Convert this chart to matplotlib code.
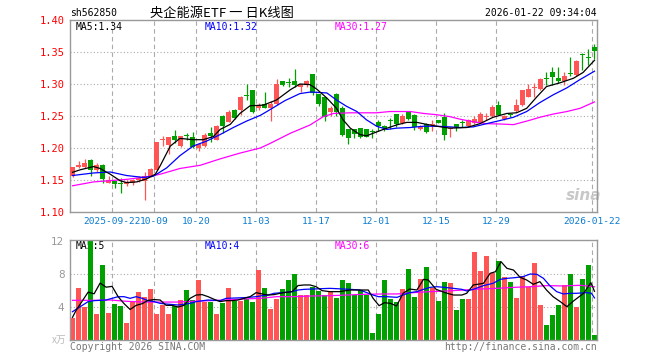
import matplotlib.pyplot as plt
import numpy as np

# daily candles, 2025-09-11 .. 2026-01-22 (88 trading days)
opens = [1.157, 1.170, 1.170, 1.182, 1.165, 1.174, 1.146, 1.149, 1.145, 1.143,
         1.145, 1.150, 1.149, 1.156, 1.166, 1.212, 1.205, 1.219, 1.203, 1.219,
         1.217, 1.200, 1.203, 1.224, 1.213, 1.250, 1.241, 1.260, 1.260, 1.282,
         1.290, 1.262, 1.269, 1.263, 1.268, 1.304, 1.303, 1.304, 1.296, 1.298,
         1.315, 1.284, 1.279, 1.257, 1.285, 1.263, 1.229, 1.229, 1.231, 1.229,
         1.227, 1.241, 1.234, 1.243, 1.253, 1.239, 1.257, 1.252, 1.229, 1.238,
         1.236, 1.243, 1.248, 1.230, 1.237, 1.2395, 1.234, 1.239, 1.241, 1.2485,
         1.250, 1.267, 1.245, 1.252, 1.258, 1.267, 1.280, 1.293, 1.292, 1.3085,
         1.318, 1.309, 1.305, 1.317, 1.314, 1.346, 1.342, 1.358]
highs = [1.171, 1.180, 1.183, 1.183, 1.176, 1.175, 1.157, 1.150, 1.153, 1.150,
         1.151, 1.156, 1.162, 1.168, 1.210, 1.219, 1.217, 1.228, 1.219, 1.223,
         1.225, 1.208, 1.223, 1.233, 1.236, 1.252, 1.259, 1.261, 1.282, 1.300,
         1.291, 1.270, 1.288, 1.273, 1.308, 1.305, 1.309, 1.323, 1.300, 1.307,
         1.316, 1.285, 1.280, 1.265, 1.286, 1.266, 1.230, 1.230, 1.232, 1.230,
         1.229, 1.244, 1.236, 1.247, 1.253, 1.253, 1.257, 1.253, 1.236, 1.239,
         1.243, 1.244, 1.254, 1.233, 1.238, 1.244, 1.245, 1.250, 1.257, 1.254,
         1.267, 1.274, 1.252, 1.254, 1.276, 1.290, 1.300, 1.301, 1.310, 1.318,
         1.327, 1.327, 1.318, 1.342, 1.337, 1.349, 1.354, 1.362]
lows = [1.155, 1.168, 1.168, 1.156, 1.163, 1.145, 1.145, 1.137, 1.130, 1.140,
        1.142, 1.147, 1.119, 1.155, 1.165, 1.203, 1.190, 1.208, 1.202, 1.212,
        1.200, 1.195, 1.202, 1.209, 1.212, 1.223, 1.240, 1.245, 1.252, 1.275,
        1.254, 1.260, 1.262, 1.242, 1.267, 1.297, 1.296, 1.296, 1.287, 1.296,
        1.283, 1.265, 1.242, 1.250, 1.250, 1.218, 1.206, 1.215, 1.216, 1.217,
        1.216, 1.227, 1.226, 1.230, 1.233, 1.238, 1.244, 1.228, 1.228, 1.224,
        1.227, 1.239, 1.212, 1.217, 1.227, 1.233, 1.233, 1.237, 1.240, 1.243,
        1.248, 1.251, 1.244, 1.248, 1.256, 1.265, 1.279, 1.280, 1.291, 1.298,
        1.299, 1.302, 1.298, 1.312, 1.313, 1.322, 1.330, 1.339]
closes = [1.170, 1.174, 1.176, 1.165, 1.174, 1.152, 1.150, 1.143, 1.144, 1.147,
          1.150, 1.153, 1.157, 1.167, 1.210, 1.214, 1.217, 1.213, 1.218, 1.218,
          1.202, 1.206, 1.220, 1.218, 1.235, 1.234, 1.256, 1.247, 1.280, 1.281,
          1.257, 1.267, 1.263, 1.268, 1.300, 1.298, 1.302, 1.299, 1.300, 1.304,
          1.286, 1.269, 1.249, 1.262, 1.257, 1.221, 1.215, 1.222, 1.217, 1.217,
          1.225, 1.235, 1.231, 1.242, 1.238, 1.250, 1.246, 1.233, 1.233, 1.225,
          1.237, 1.239, 1.220, 1.231, 1.233, 1.2385, 1.243, 1.246, 1.253, 1.2495,
          1.264, 1.252, 1.250, 1.251, 1.267, 1.290, 1.292, 1.294, 1.308, 1.3075,
          1.311, 1.304, 1.313, 1.316, 1.336, 1.345, 1.341, 1.352]
# volume, unit: 万
volumes = [2.7, 6.3, 4.0, 12.2, 3.15, 9.1, 3.3, 4.35, 4.1, 2.05,
           4.65, 5.8, 5.25, 6.2, 3.15, 4.25, 3.15, 4.1, 4.85, 6.05,
           4.85, 7.3, 4.65, 4.65, 3.15, 4.5, 6.3, 4.75, 4.75, 4.95,
           4.65, 8.5, 6.3, 3.75, 4.95, 6.2, 7.3, 8.0, 5.45, 5.45,
           6.4, 5.95, 5.45, 5.85, 5.15, 7.3, 6.95, 5.45, 6.05, 5.45,
           0.9, 3.15, 7.3, 4.95, 4.65, 6.2, 8.6, 5.25, 7.4, 8.85,
           6.3, 4.75, 7.0, 6.85, 3.65, 4.95, 4.95, 10.65, 8.35, 10.2,
           8.1, 9.6, 7.6, 7.0, 5.1, 7.75, 6.4, 9.35, 4.25, 1.8,
           3.05, 4.25, 6.65, 8.0, 4.0, 7.4, 9.15, 0.6]

tick_idx = [7, 14, 21, 31, 41, 51, 61, 71, 87]
tick_labels = ["2025-09-22", "10-09", "10-20", "11-03", "11-17",
               "12-01", "12-15", "12-29", "2026-01-22"]

# moving averages (candle index, value)
ma5_x = [0, 1.3, 3.5, 4.6, 6.3, 7.9, 9.0, 10.7, 12.4, 13.8, 14.6, 16.3, 17.9, 20.1, 21.8,
         23.5, 24.6, 26.3, 27.9, 29.6, 31.8, 34.0, 36.3, 37.9, 39.6, 40.7, 42.4, 44.0, 45.1,
         46.3, 47.9, 49.0, 50.1, 51.8, 54.0, 55.7, 57.4, 59.0, 60.7, 62.9, 65.7, 67.9, 70.1,
         72.4, 74.0, 75.7, 77.4, 79.0, 81.3, 83.5, 85.1, 87.0]
ma5_y = [1.162, 1.166, 1.171, 1.168, 1.159, 1.149, 1.146, 1.147, 1.152, 1.159, 1.172, 1.203,
         1.215, 1.213, 1.213, 1.218, 1.229, 1.237, 1.254, 1.266, 1.267, 1.275, 1.291, 1.300,
         1.299, 1.292, 1.278, 1.262, 1.244, 1.231, 1.221, 1.219, 1.223, 1.229, 1.236, 1.240,
         1.240, 1.237, 1.234, 1.231, 1.232, 1.238, 1.248, 1.254, 1.255, 1.262, 1.280, 1.296,
         1.302, 1.309, 1.318, 1.337]
ma10_x = [0, 3.5, 6.3, 9.0, 11.8, 13.5, 15.7, 17.9, 20.1, 22.4, 24.6, 26.8, 29.0, 31.3,
          32.4, 35.4, 37.9, 39.7, 42.4, 44.0, 45.7, 47.4, 49.0, 50.7, 52.4, 54.0, 56.3,
          58.5, 60.7, 62.9, 64.6, 66.8, 69.0, 71.3, 73.5, 75.7, 77.9, 80.1, 82.4, 84.6, 87.0]
ma10_y = [1.157, 1.161, 1.1625, 1.157, 1.154, 1.156, 1.169, 1.188, 1.203, 1.211, 1.221,
          1.232, 1.242, 1.251, 1.257, 1.274, 1.285, 1.2875, 1.286, 1.275, 1.265, 1.257,
          1.244, 1.234, 1.229, 1.231, 1.232, 1.234, 1.234, 1.233, 1.232, 1.233, 1.238,
          1.243, 1.248, 1.257, 1.271, 1.283, 1.294, 1.307, 1.320]
ma30_x = [0, 3.5, 6.3, 9.0, 12.4, 14.6, 17.9, 21.3, 24.6, 27.9, 31.3, 32.9, 36.3, 39.6,
          41.8, 43.5, 46.3, 50.7, 52.9, 56.3, 58.5, 60.7, 62.9, 64.6, 66.8, 69.0, 71.3,
          73.5, 75.7, 77.9, 80.1, 82.4, 84.6, 87.0]
ma30_y = [1.141, 1.147, 1.149, 1.151, 1.155, 1.159, 1.168, 1.173, 1.183, 1.192, 1.200,
          1.207, 1.223, 1.236, 1.249, 1.254, 1.255, 1.255, 1.257, 1.257, 1.254, 1.252,
          1.249, 1.245, 1.241, 1.238, 1.2375, 1.2365, 1.242, 1.248, 1.253, 1.257, 1.262,
          1.272]

vma5_x = [0, 0.6, 2.6, 3.6, 4.6, 5.6, 6.6, 7.6, 8.6, 9.6, 10.6, 11.6, 12.6, 13.6, 14.6,
          15.6, 16.6, 17.6, 18.6, 19.6, 20.6, 21.6, 22.6, 23.6, 24.6, 25.6, 26.6, 27.6,
          28.6, 29.6, 30.6, 31.6, 32.6, 33.6, 34.6, 35.6, 36.6, 37.6, 38.6, 39.6, 40.6,
          41.6, 42.9, 44.5, 46.3, 47.9, 49.3, 50.1, 51.1, 52.0, 53.0, 54.0, 55.1, 56.2,
          57.4, 58.5, 59.3, 60.6, 62.1, 63.5, 64.9, 65.7, 66.8, 68.5, 69.6, 70.5, 71.4,
          72.4, 73.5, 74.6, 75.7, 76.8, 77.9, 79.0, 80.1, 81.3, 82.4, 83.5, 85.2, 86.4, 87.0]
vma5_y = [2.75, 3.6, 5.8, 5.6, 6.9, 6.4, 6.5, 5.25, 4.4, 3.7, 4.2, 4.4, 4.8, 4.9, 4.85,
          4.2, 4.2, 4.0, 4.2, 5.05, 5.45, 5.5, 5.25, 4.93, 4.65, 4.77, 4.77, 4.85, 5.05,
          5.25, 5.74, 5.58, 5.45, 5.5, 5.66, 5.78, 5.86, 6.6, 6.67, 6.67, 6.46, 5.98, 5.86,
          5.86, 6.06, 6.06, 6.06, 5.05, 4.16, 4.52, 4.44, 4.12, 5.66, 6.18, 6.06, 7.35, 7.27,
          6.14, 5.74, 5.45, 5.45, 5.66, 6.67, 6.87, 8.08, 8.28, 9.5, 8.69, 8.48, 7.6, 7.27,
          6.75, 7.07, 6.06, 5.25, 4.65, 4.04, 4.73, 5.66, 6.95, 5.9]
vma10_x = [0, 0.6, 2.6, 3.6, 5.6, 6.6, 7.6, 8.6, 9.6, 10.6, 11.6, 12.6, 13.6, 14.6, 15.6,
           17.6, 19.6, 20.6, 22.6, 24.6, 25.6, 28.6, 30.6, 31.6, 32.6, 33.6, 35.6, 36.6,
           37.6, 38.6, 42.9, 46.3, 47.9, 50.1, 51.0, 52.4, 54.1, 55.1, 56.2, 57.4, 58.5,
           59.6, 60.7, 62.0, 63.5, 64.9, 65.7, 66.8, 68.5, 70.1, 71.3, 72.4, 73.8, 75.1,
           76.3, 77.4, 78.5, 79.6, 80.7, 81.8, 82.9, 84.0, 85.7, 86.5, 87.0]
vma10_y = [3.43, 3.72, 4.65, 4.77, 4.85, 5.05, 5.25, 5.25, 5.05, 5.25, 5.05, 4.77, 4.65,
           4.44, 4.36, 4.24, 4.44, 4.65, 4.85, 4.77, 5.05, 5.13, 5.25, 5.37, 5.45, 5.66,
           5.78, 5.86, 6.06, 6.14, 6.26, 6.14, 6.06, 5.45, 5.25, 5.25, 5.17, 5.45, 5.74,
           5.86, 6.14, 6.38, 6.46, 6.38, 6.26, 6.14, 5.94, 6.14, 6.59, 6.87, 7.35, 7.47,
           7.56, 7.68, 8.0, 7.96, 7.47, 6.55, 5.86, 5.58, 5.66, 5.66, 5.74, 5.66, 5.1]
vma30_x = [0, 4.0, 6.3, 9.0, 11.8, 14.6, 17.4, 20.1, 22.9, 25.7, 28.5, 31.3, 34.0, 36.8,
           39.6, 42.9, 45.7, 48.7, 51.8, 54.1, 56.8, 59.6, 62.4, 65.2, 68.0, 70.7, 73.5,
           76.3, 79.0, 81.8, 84.6, 87.0]
vma30_y = [4.81, 4.81, 4.85, 4.69, 4.6, 4.6, 4.6, 4.69, 4.77, 4.85, 4.97, 5.05, 5.25,
           5.25, 5.33, 5.37, 5.45, 5.54, 5.58, 5.58, 5.74, 5.86, 5.94, 6.06, 6.18, 6.26,
           6.38, 6.46, 6.59, 6.55, 6.63, 6.45]

RED = "#ff5555"
GREEN = "#00a000"
GRID = "#aaaaaa"
MONO = "DejaVu Sans Mono"
FS = 7

W, H = 660, 360


def box(left, top, right, bottom):
    """pixel box -> figure fraction rect"""
    return [left / W, 1 - bottom / H, (right - left) / W, (bottom - top) / H]


def style_axes(ax):
    for sp in ax.spines.values():
        sp.set_color("#999999")
        sp.set_linewidth(1)
    ax.set_xlim(-0.42, 87.42)
    ax.set_xticks([t - 0.4 for t in tick_idx])
    ax.tick_params(axis="x", length=0, labelbottom=False)
    ax.tick_params(axis="y", length=0, pad=4)
    for t in tick_idx:
        ax.axvline(t - 0.4, color=GRID, lw=0.8, ls=(0, (4, 3)), zorder=0)


fig = plt.figure(figsize=(6.6, 3.6), dpi=100)
ax = fig.add_axes(box(70, 20, 597, 212))
axv = fig.add_axes(box(70, 240, 597, 340))

o = np.array(opens)
c = np.array(closes)
x = np.arange(len(c))
colors = np.where(c >= o, RED, GREEN)

# price panel
style_axes(ax)
ax.set_ylim(1.10, 1.40)
ax.set_yticks([1.10, 1.15, 1.20, 1.25, 1.30, 1.35, 1.40])
ax.set_yticklabels(["1.10", "1.15", "1.20", "1.25", "1.30", "1.35", "1.40"],
                   family=MONO, fontsize=7.5, color="red")
for yv in [1.15, 1.20, 1.25, 1.30, 1.35]:
    ax.axhline(yv, color=GRID, lw=0.8, ls=(0, (1, 2)), zorder=0)
ax.vlines(x, lows, highs, colors=colors, lw=0.9, zorder=2)
body_h = np.maximum(np.abs(c - o), 0.0016)
ax.bar(x, body_h, bottom=np.minimum(o, c), width=0.82, color=colors, lw=0, zorder=3)
ax.plot(ma30_x, ma30_y, color="#ff00ff", lw=0.9, zorder=4)
ax.plot(ma10_x, ma10_y, color="#0000ff", lw=0.9, zorder=4)
ax.plot(ma5_x, ma5_y, color="black", lw=0.9, zorder=4)
# sina watermark
ax.text(82.3, 1.1265, "sina", fontsize=11, fontstyle="italic", fontweight="bold",
        color="#c8c8c8", ha="left", va="center", zorder=1)
ax.text(0.01, 0.965, "MA5:1.34", transform=ax.transAxes, family=MONO, fontsize=FS,
        va="center", color="black", zorder=1)
ax.text(0.256, 0.965, "MA10:1.32", transform=ax.transAxes, family=MONO, fontsize=FS,
        va="center", color="#0000ff", zorder=1)
ax.text(0.503, 0.965, "MA30:1.27", transform=ax.transAxes, family=MONO, fontsize=FS,
        va="center", color="#ff00ff", zorder=1)

# x labels under the price panel
for t, lab in zip(tick_idx, tick_labels):
    ax.text(t - 0.4, 1.10 - 0.0155, lab, family=MONO, fontsize=6.8, color="#0a7bd0",
            ha="center", va="center", clip_on=False)

# volume panel
style_axes(axv)
axv.set_ylim(0, 12.12)
axv.set_yticks([4, 8, 12])
axv.set_yticklabels(["4", "8", "12"], fontsize=7.5, color="#999999")
for yv in [4, 8]:
    axv.axhline(yv, color=GRID, lw=0.8, ls=(0, (1, 2)), zorder=0)
# legend text sits under the bars, as in the original
axv.text(0.01, 0.94, "MA5:5", transform=axv.transAxes, family=MONO, fontsize=FS,
         va="center", color="black", zorder=1)
axv.text(0.256, 0.94, "MA10:4", transform=axv.transAxes, family=MONO, fontsize=FS,
         va="center", color="#0000ff", zorder=1)
axv.text(0.503, 0.94, "MA30:6", transform=axv.transAxes, family=MONO, fontsize=FS,
         va="center", color="#ff00ff", zorder=1)
axv.bar(x, volumes, width=0.82, color=colors, lw=0, zorder=2)
axv.plot(vma30_x, vma30_y, color="#ff00ff", lw=0.9, zorder=4)
axv.plot(vma10_x, vma10_y, color="#0000ff", lw=0.9, zorder=4)
axv.plot(vma5_x, vma5_y, color="black", lw=0.9, zorder=4)

# header / footer texts
fig.text(70 / W, 1 - 13 / H, "sh562850", family=MONO, fontsize=FS, va="center")
fig.text(150 / W, 1 - 13 / H, "央企能源ETF 一 日K线图",
         family=["Noto Sans CJK SC", "DejaVu Sans"], fontsize=9.5, va="center")
fig.text(597 / W, 1 - 13 / H, "2026-01-22 09:34:04", family=MONO, fontsize=FS,
         va="center", ha="right")
fig.text(66 / W, 1 - 340 / H, "x万", family=["Noto Sans CJK SC", "DejaVu Sans"],
         fontsize=7, va="center", ha="right", color="#bbbbbb")
fig.text(70 / W, 1 - 347 / H, "Copyright 2026 SINA.COM", family=MONO, fontsize=FS,
         va="center", color="#777777")
fig.text(597 / W, 1 - 347 / H, "http://finance.sina.com.cn", family=MONO, fontsize=FS,
         va="center", ha="right", color="#777777")

fig.savefig("out.png", dpi=100)
